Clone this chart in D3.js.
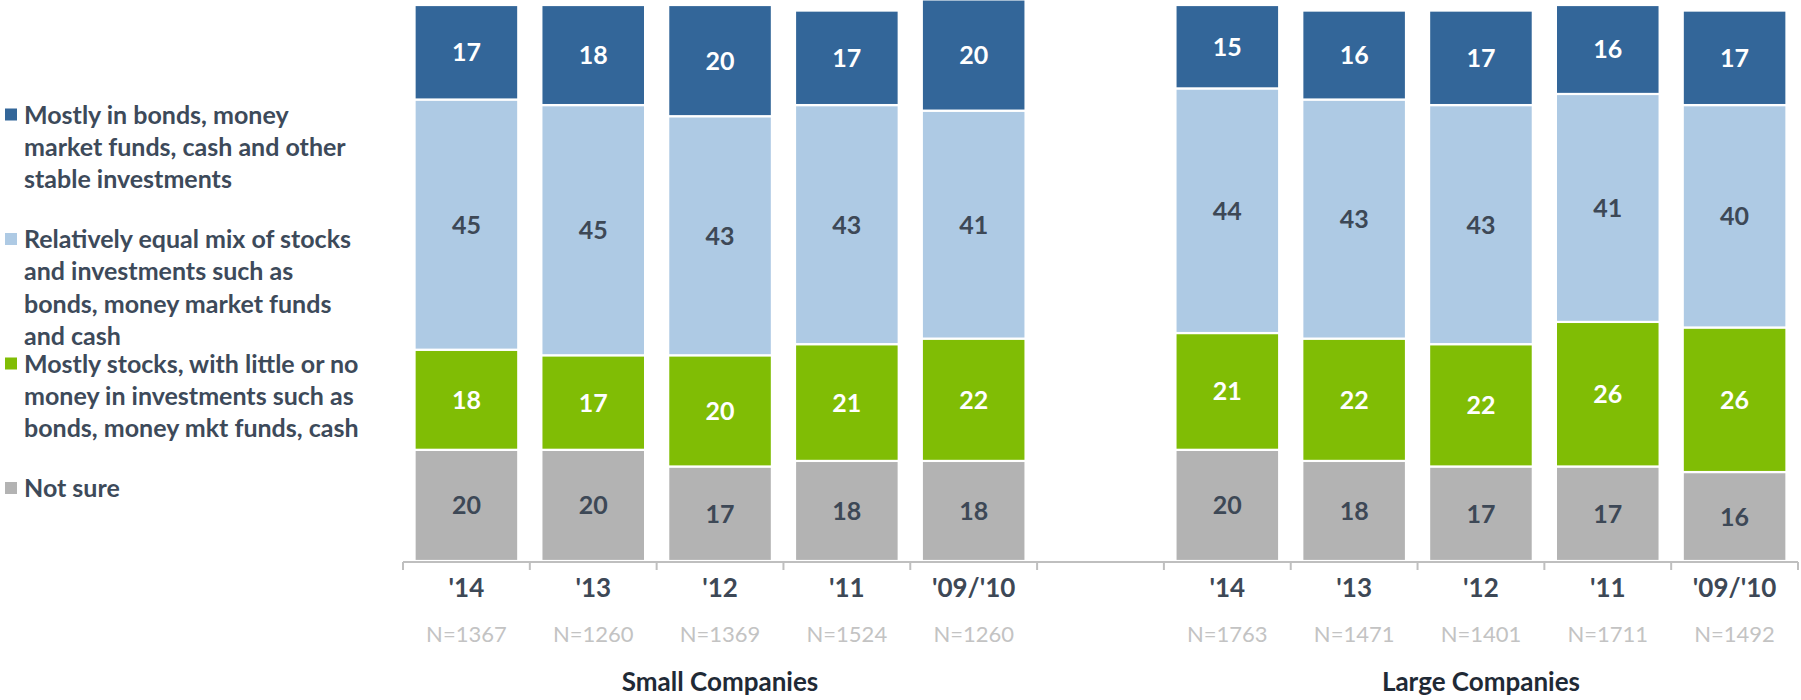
<!DOCTYPE html>
<html>
<head>
<meta charset="utf-8">
<script src="https://cdnjs.cloudflare.com/ajax/libs/d3/7.8.5/d3.min.js"></script>
<style>
  body { margin: 0; background: #fff; }
  svg text { font-family: Lato, "Open Sans", sans-serif; }
</style>
</head>
<body>
<div id="chart"></div>
<script>
// categories (years) and sample sizes
var years = ["'14", "'13", "'12", "'11", "'09/'10"];
var groupNames = ["Small Companies", "Large Companies"];
var smallN = [1367, 1260, 1369, 1524, 1260];
var largeN = [1763, 1471, 1401, 1711, 1492];

// series, bottom to top
var seriesNames = ["Not sure",
  "Mostly stocks, with little or no money in investments such as bonds, money mkt funds, cash",
  "Relatively equal mix of stocks and investments such as bonds, money market funds and cash",
  "Mostly in bonds, money market funds, cash and other stable investments"];
var smallNotSure = [20, 20, 17, 18, 18];
var smallStocks  = [18, 17, 20, 21, 22];
var smallMix     = [45, 45, 43, 43, 41];
var smallBonds   = [17, 18, 20, 17, 20];
var largeNotSure = [20, 18, 17, 17, 16];
var largeStocks  = [21, 22, 22, 26, 26];
var largeMix     = [44, 43, 43, 41, 40];
var largeBonds   = [15, 16, 17, 16, 17];

// legend text, as wrapped in the original (top to bottom)
var legendLines = [
  ["Mostly in bonds, money", "market funds, cash and other", "stable investments"],
  ["Relatively equal mix of stocks", "and investments such as", "bonds, money market funds", "and cash"],
  ["Mostly stocks, with little or no", "money in investments such as", "bonds, money mkt funds, cash"],
  ["Not sure"]
];

var colors = ["#b3b3b3", "#80bd05", "#aecae4", "#336699"];
var labelColors = ["#3d4856", "#ffffff", "#3d4856", "#ffffff"];
var legendColors = ["#336699", "#aecae4", "#80bd05", "#b3b3b3"];

var width = 1801, height = 700;

// build rows: 5 small, one empty slot, 5 large
var rows = [];
years.forEach(function (y, i) {
  rows.push({key: "S" + i, year: y, n: smallN[i],
    vals: [smallNotSure[i], smallStocks[i], smallMix[i], smallBonds[i]]});
});
rows.push({key: "gap", year: "", n: null, vals: null});
years.forEach(function (y, i) {
  rows.push({key: "L" + i, year: y, n: largeN[i],
    vals: [largeNotSure[i], largeStocks[i], largeMix[i], largeBonds[i]]});
});

var svg = d3.select("#chart")
  .append("svg")
  .attr("width", width)
  .attr("height", height);

var xScale = d3.scaleBand()
  .domain(rows.map(function (d) { return d.key; }))
  .range([403, 1798])
  .paddingInner(0.182)
  .paddingOuter(0.091);

var yScale = d3.scaleLinear()
  .domain([0, 100])
  .range([561, 5]);

// stacked segments
var segs = [];
rows.forEach(function (r) {
  if (!r.vals) return;
  var base = 0;
  r.vals.forEach(function (v, s) {
    segs.push({key: r.key, s: s, v: v, y0: base, y1: base + v});
    base += v;
  });
});

var chart = svg.append("g").attr("class", "bars");

chart.selectAll("rect")
  .data(segs)
  .enter()
  .append("rect")
  .attr("x", function (d) { return xScale(d.key); })
  .attr("y", function (d) { return yScale(d.y1); })
  .attr("width", xScale.bandwidth())
  .attr("height", function (d) { return yScale(d.y0) - yScale(d.y1); })
  .style("fill", function (d) { return colors[d.s]; })
  .style("stroke", "#fff")
  .style("stroke-width", 2.2);

chart.selectAll("text")
  .data(segs)
  .enter()
  .append("text")
  .attr("x", function (d) { return xScale(d.key) + xScale.bandwidth() / 2; })
  .attr("y", function (d) { return yScale((d.y0 + d.y1) / 2); })
  .attr("dy", "0.36em")
  .attr("text-anchor", "middle")
  .style("font-size", "25px")
  .style("font-weight", "bold")
  .style("fill", function (d) { return labelColors[d.s]; })
  .text(function (d) { return d.v; });

// x axis: line with ticks between categories
var axisY = 562;
var axis = svg.append("g").attr("id", "xAxis");
axis.append("line")
  .attr("x1", xScale.range()[0]).attr("x2", xScale.range()[1])
  .attr("y1", axisY).attr("y2", axisY)
  .style("stroke", "#bfbfbf").style("stroke-width", 2);
axis.selectAll("line.tick")
  .data(d3.range(rows.length + 1))
  .enter()
  .append("line")
  .attr("class", "tick")
  .attr("x1", function (i) { return xScale.range()[0] + i * xScale.step(); })
  .attr("x2", function (i) { return xScale.range()[0] + i * xScale.step(); })
  .attr("y1", axisY).attr("y2", axisY + 8)
  .style("stroke", "#bfbfbf").style("stroke-width", 2);

var labelled = rows.filter(function (d) { return d.vals; });
axis.selectAll("text.year")
  .data(labelled)
  .enter()
  .append("text")
  .attr("class", "year")
  .attr("x", function (d) { return xScale(d.key) + xScale.bandwidth() / 2; })
  .attr("y", 588)
  .attr("dy", "0.36em")
  .attr("text-anchor", "middle")
  .style("font-size", "26px")
  .style("font-weight", "bold")
  .style("fill", "#3d4856")
  .text(function (d) { return d.year; });

axis.selectAll("text.n")
  .data(labelled)
  .enter()
  .append("text")
  .attr("class", "n")
  .attr("x", function (d) { return xScale(d.key) + xScale.bandwidth() / 2; })
  .attr("y", 634)
  .attr("dy", "0.36em")
  .attr("text-anchor", "middle")
  .style("font-size", "22px")
  .style("fill", "#c3c3c3")
  .text(function (d) { return "N=" + d.n; });

// group titles
var groupCenters = [
  (xScale.range()[0] + xScale.range()[0] + 5 * xScale.step()) / 2,
  (xScale.range()[1] - 5 * xScale.step() + xScale.range()[1]) / 2
];
svg.selectAll("text.group")
  .data(groupNames)
  .enter()
  .append("text")
  .attr("class", "group")
  .attr("x", function (d, i) { return groupCenters[i]; })
  .attr("y", 682)
  .attr("dy", "0.36em")
  .attr("text-anchor", "middle")
  .style("font-size", "26px")
  .style("font-weight", "bold")
  .style("fill", "#1f2a36")
  .text(function (d) { return d; });

// legend
var legend = svg.append("g").attr("class", "legend");
var items = legend.selectAll("g")
  .data(legendLines)
  .enter()
  .append("g")
  .attr("transform", function (d, i) { return "translate(0," + (114.5 + i * 124.5) + ")"; });
items.append("rect")
  .attr("x", 5).attr("y", -6)
  .attr("width", 12).attr("height", 12)
  .style("fill", function (d, i) { return legendColors[i]; });
items.selectAll("text")
  .data(function (d) { return d; })
  .enter()
  .append("text")
  .attr("x", 24)
  .attr("y", function (d, j) { return j * 32.4; })
  .attr("dy", "0.36em")
  .style("font-size", "25px")
  .style("font-weight", "bold")
  .style("fill", "#3d4a5a")
  .text(function (d) { return d; });
</script>
</body>
</html>
